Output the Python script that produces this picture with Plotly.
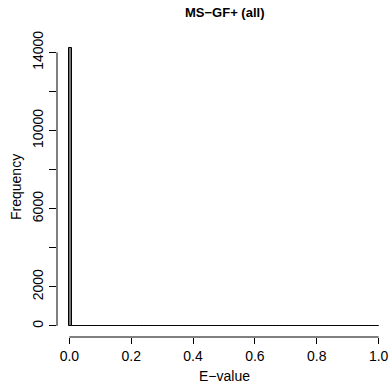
import plotly.graph_objects as go

# Histogram of E-values: 100 bins of width 0.01 on [0, 1]
bin_width = 0.01
bin_starts = [round(i * 0.01, 2) for i in range(100)]
counts = [14220, 12, 8, 6, 5, 4, 4, 3, 3, 3,
          2, 2, 2, 2, 2, 2, 2, 2, 1, 1,
          1, 1, 1, 1, 1, 1, 1, 1, 1, 1,
          1, 1, 1, 1, 1, 1, 1, 1, 1, 1,
          1, 1, 1, 1, 1, 1, 1, 1, 1, 1,
          1, 1, 1, 1, 1, 1, 1, 1, 1, 1,
          1, 1, 1, 1, 1, 1, 1, 1, 1, 1,
          1, 1, 1, 1, 1, 1, 1, 1, 1, 1,
          1, 1, 1, 1, 1, 1, 1, 1, 1, 1,
          1, 1, 1, 1, 1, 1, 1, 1, 1, 1]

x_ticks = [0.0, 0.2, 0.4, 0.6, 0.8, 1.0]
x_labels = ["0.0", "0.2", "0.4", "0.6", "0.8", "1.0"]
y_ticks = [0, 2000, 4000, 6000, 8000, 10000, 12000, 14000]
y_labels = ["0", "2000", "", "6000", "", "10000", "", "14000"]

title = "MS\u2212GF+ (all)"
xlab = "E\u2212value"
ylab = "Frequency"

centers = [s + bin_width / 2 for s in bin_starts]
ymax = max(counts)

W, H = 391, 384
L, R, T, B = 57, 0, 37, 47

fig = go.Figure(go.Bar(
    x=centers, y=counts, width=bin_width,
    marker=dict(color="#777777", line=dict(color="black", width=1)),
    hoverinfo="skip",
))

font = "Liberation Sans, Arial, Helvetica, sans-serif"

fig.update_layout(
    width=W, height=H,
    margin=dict(l=L, r=R, t=T, b=B, autoexpand=False),
    paper_bgcolor="white", plot_bgcolor="white",
    showlegend=False,
    bargap=0,
    font=dict(family=font, size=14, color="black"),
    xaxis=dict(
        range=[-0.04, 1.04], showgrid=False, zeroline=False, showline=False,
        automargin=False,
        tickvals=x_ticks, ticktext=x_labels, ticks="outside", ticklen=6,
        tickcolor="black", tickwidth=1, tickfont=dict(size=14),
        ticklabelstandoff=0,
    ),
    yaxis=dict(
        range=[-0.04 * ymax, ymax * 1.04], showgrid=False, zeroline=False, showline=False,
        automargin=False,
        tickvals=y_ticks, ticktext=y_labels, ticks="outside", ticklen=7,
        tickcolor="black", tickwidth=1, tickangle=-90, tickfont=dict(size=14),
        ticklabelstandoff=0,
    ),
    shapes=[
        dict(type="line", xref="x", yref="paper", x0=0, x1=1, y0=0, y1=0,
             line=dict(color="black", width=1)),
        dict(type="line", xref="paper", yref="y", x0=0, x1=0, y0=0, y1=14000,
             line=dict(color="black", width=1)),
    ],
    annotations=[
        dict(text="<b>" + title + "</b>", xref="paper", yref="paper",
             x=0.5, y=1 + (T - 13) / (H - T - B), xanchor="center", yanchor="middle",
             showarrow=False, font=dict(size=13)),
        dict(text=xlab, xref="paper", yref="paper",
             x=0.5, y=-(376 - (H - B)) / (H - T - B), xanchor="center", yanchor="middle",
             showarrow=False, font=dict(size=14)),
        dict(text=ylab, xref="paper", yref="paper", textangle=-90,
             x=-(L - 16) / (W - L - R), y=0.5, xanchor="center", yanchor="middle",
             showarrow=False, font=dict(size=14)),
    ],
)

fig.write_html("out.html", config={"displayModeBar": False},
               post_script="document.body.style.margin='0';document.body.style.padding='0';")
